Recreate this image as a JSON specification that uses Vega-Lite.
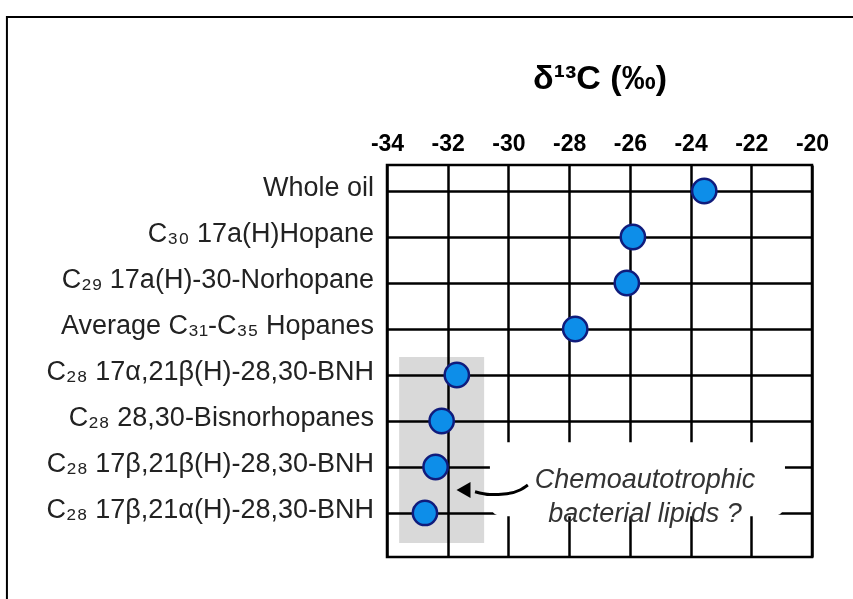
{
  "$schema": "https://vega.github.io/schema/vega-lite/v6.json",
  "width": 425,
  "height": 392,
  "autosize": {"type": "none"},
  "padding": {"left": 387, "top": 165, "right": 41, "bottom": 42},
  "background": "white",
  "config": {
    "font": "Liberation Sans",
    "view": {"stroke": "#000", "strokeWidth": 2.5}
  },
  "data": {"values": [{"note": "annotation"}]},
  "datasets": {
    "points": [
      {"idx": 0, "compound": "Whole oil", "d13C": -23.55},
      {"idx": 1, "compound": "C₃₀ 17a(H)Hopane", "d13C": -25.9},
      {"idx": 2, "compound": "C₂₉ 17a(H)-30-Norhopane", "d13C": -26.1},
      {"idx": 3, "compound": "Average  C₃₁-C₃₅ Hopanes", "d13C": -27.8},
      {"idx": 4, "compound": "C₂₈ 17α,21β(H)-28,30-BNH", "d13C": -31.7},
      {"idx": 5, "compound": "C₂₈ 28,30-Bisnorhopanes", "d13C": -32.2},
      {"idx": 6, "compound": "C₂₈ 17β,21β(H)-28,30-BNH", "d13C": -32.4},
      {"idx": 7, "compound": "C₂₈ 17β,21α(H)-28,30-BNH", "d13C": -32.75}
    ],
    "arrow": [
      {"x": -31.1, "y": 6.54},
      {"x": -30.61, "y": 6.6},
      {"x": -30.05, "y": 6.58},
      {"x": -29.62, "y": 6.5},
      {"x": -29.36, "y": 6.39}
    ]
  },
  "encoding": {
    "x": {
      "type": "quantitative",
      "scale": {"domain": [-34, -20], "nice": false, "zero": false},
      "axis": {
        "orient": "top",
        "grid": true,
        "gridColor": "#000",
        "gridWidth": 2.5,
        "gridOpacity": 1,
        "domain": false,
        "ticks": false,
        "values": [-34, -32, -30, -28, -26, -24, -22, -20],
        "labelExpr": "'-' + toString(abs(datum.value))",
        "labelFont": "Liberation Sans",
        "labelFontSize": 23,
        "labelFontWeight": "bold",
        "labelColor": "#000",
        "labelPadding": 10,
        "labelFlush": false,
        "title": "δ¹³C (‰)",
        "titleFont": "Liberation Sans",
        "titleFontSize": 34,
        "titleFontWeight": "bold",
        "titleColor": "#000",
        "titlePadding": 37
      }
    },
    "y": {
      "type": "quantitative",
      "scale": {"domain": [-0.565, 7.957], "nice": false, "zero": false, "reverse": true},
      "axis": {
        "values": [0, 1, 2, 3, 4, 5, 6, 7],
        "grid": true,
        "gridColor": "#000",
        "gridWidth": 2.5,
        "gridOpacity": 1,
        "domain": false,
        "ticks": false,
        "labels": false,
        "title": null
      }
    }
  },
  "layer": [
    {
      "mark": {"type": "rect", "filled": false, "stroke": "#000", "strokeWidth": 2, "clip": false},
      "encoding": {
        "x": {"datum": -46.52},
        "x2": {"datum": -16.5},
        "y": {"datum": -3.78},
        "y2": {"datum": 10}
      }
    },
    {
      "mark": {"type": "rect", "color": "#d9d9d9", "blend": "multiply"},
      "encoding": {
        "x": {"datum": -33.6},
        "x2": {"datum": -30.8},
        "y": {"datum": 3.61},
        "y2": {"datum": 7.65}
      }
    },
    {
      "mark": {"type": "rect", "color": "white", "cornerRadius": 12},
      "encoding": {
        "x": {"datum": -30.61},
        "x2": {"datum": -20.89},
        "y": {"datum": 5.46},
        "y2": {"datum": 7.07}
      }
    },
    {
      "data": {"name": "arrow"},
      "mark": {"type": "line", "color": "#000", "strokeWidth": 3, "interpolate": "monotone"},
      "encoding": {
        "x": {"field": "x", "type": "quantitative"},
        "y": {"field": "y", "type": "quantitative"}
      }
    },
    {
      "mark": {"type": "point", "shape": "triangle-left", "filled": true, "color": "#000", "size": 260, "opacity": 1},
      "encoding": {
        "x": {"datum": -31.48},
        "y": {"datum": 6.5}
      }
    },
    {
      "mark": {
        "type": "text",
        "text": ["Chemoautotrophic", "bacterial lipids ?"],
        "lineHeight": 34,
        "fontSize": 27,
        "fontStyle": "italic",
        "color": "#333",
        "align": "center",
        "baseline": "middle"
      },
      "encoding": {
        "x": {"datum": -25.5},
        "y": {"datum": 6.28}
      }
    },
    {
      "data": {"name": "points"},
      "mark": {"type": "circle", "size": 590, "color": "#0d8ee9", "stroke": "#101c7c", "strokeWidth": 2.5, "opacity": 1},
      "encoding": {
        "x": {"field": "d13C", "type": "quantitative"},
        "y": {"field": "idx", "type": "quantitative"}
      }
    },
    {
      "data": {"name": "points"},
      "mark": {"type": "text", "align": "right", "baseline": "middle", "dx": -13, "dy": -3, "fontSize": 27, "color": "#222"},
      "encoding": {
        "x": {"datum": -34},
        "y": {"field": "idx", "type": "quantitative"},
        "text": {"field": "compound"}
      }
    }
  ]
}
